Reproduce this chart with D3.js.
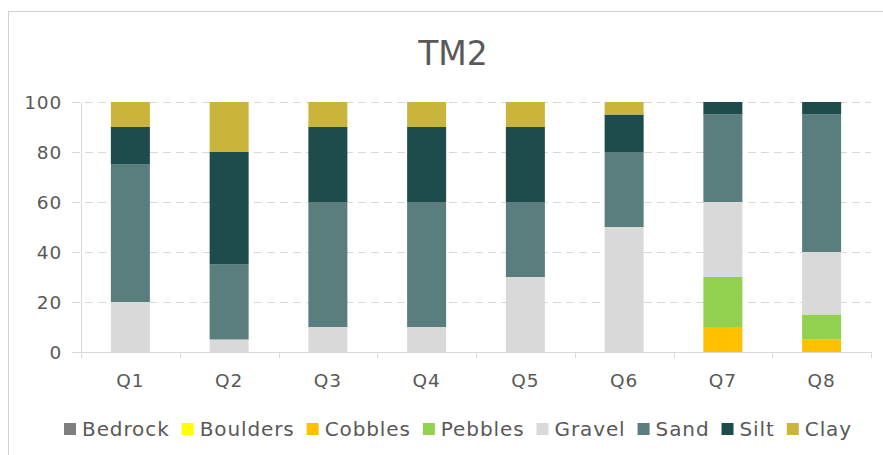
<!DOCTYPE html>
<html>
<head>
<meta charset="utf-8">
<script src="https://cdn.jsdelivr.net/npm/d3@7"></script>
<style>
  html, body { margin: 0; padding: 0; background: #fff; }
  svg { display: block; font-family: "DejaVu Sans", sans-serif; }
</style>
</head>
<body>
<svg id="chart" width="883" height="455"></svg>
<script>
// Sediment composition (%) per quadrat, stacked bottom to top
const categories = ["Q1", "Q2", "Q3", "Q4", "Q5", "Q6", "Q7", "Q8"];
const seriesNames = ["Bedrock", "Boulders", "Cobbles", "Pebbles", "Gravel", "Sand", "Silt", "Clay"];
const bedrock  = [0, 0, 0, 0, 0, 0, 0, 0];
const boulders = [0, 0, 0, 0, 0, 0, 0, 0];
const cobbles  = [0, 0, 0, 0, 0, 0, 10, 5];
const pebbles  = [0, 0, 0, 0, 0, 0, 20, 10];
const gravel   = [20, 5, 10, 10, 30, 50, 30, 25];
const sand     = [55, 30, 50, 50, 30, 30, 35, 55];
const silt     = [15, 45, 30, 30, 30, 15, 5, 5];
const clay     = [10, 20, 10, 10, 10, 5, 0, 0];
const yTicks = [0, 20, 40, 60, 80, 100];
const colors = ["#7f7f7f", "#ffff00", "#ffc000", "#92d050", "#d9d9d9", "#5a7e7d", "#1e4b4c", "#c9b53c"];

const seriesValues = [bedrock, boulders, cobbles, pebbles, gravel, sand, silt, clay];
const rows = categories.map((c, i) => {
  const r = { cat: c };
  seriesNames.forEach((s, j) => { r[s] = seriesValues[j][i]; });
  return r;
});
const stacked = d3.stack().keys(seriesNames)(rows);

const svg = d3.select("#chart");
const plotLeft = 81, plotRight = 871, plotTop = 102, plotBottom = 352;

// chart frame
svg.append("rect")
  .attr("x", 8.5).attr("y", 11.5)
  .attr("width", 920).attr("height", 500)
  .attr("fill", "none").attr("stroke", "#d0d0d0").attr("stroke-width", 1);

const x = d3.scaleBand().domain(categories).range([plotLeft, plotRight])
  .paddingInner(0.605).paddingOuter(0.3025);
const y = d3.scaleLinear().domain([0, 100]).range([plotBottom, plotTop]);
const color = d3.scaleOrdinal().domain(seriesNames).range(colors);

// title
svg.append("text")
  .attr("x", 453).attr("y", 65)
  .attr("text-anchor", "middle")
  .attr("font-size", 33).attr("fill", "#595959")
  .text("TM2");

// dashed gridlines
svg.append("g").selectAll("line")
  .data(yTicks.filter(t => t > 0))
  .join("line")
  .attr("x1", 72).attr("x2", plotRight)
  .attr("y1", d => Math.round(y(d)) + 0.5).attr("y2", d => Math.round(y(d)) + 0.5)
  .attr("stroke", "#d9d9d9").attr("stroke-width", 1)
  .attr("stroke-dasharray", "8,5");

// y axis line
svg.append("line")
  .attr("x1", plotLeft + 0.5).attr("x2", plotLeft + 0.5)
  .attr("y1", plotTop).attr("y2", plotBottom + 6)
  .attr("stroke", "#d9d9d9");

// y tick labels
svg.append("g").selectAll("text")
  .data(yTicks)
  .join("text")
  .attr("x", 62).attr("y", d => y(d))
  .attr("dy", "0.36em")
  .attr("text-anchor", "end")
  .attr("font-size", 18.5).attr("letter-spacing", 0.8)
  .attr("fill", "#595959")
  .text(d => d);

// bars
svg.append("g").selectAll("g")
  .data(stacked)
  .join("g")
  .attr("fill", d => color(d.key))
  .selectAll("rect")
  .data(d => d)
  .join("rect")
  .attr("x", d => x(d.data.cat))
  .attr("width", x.bandwidth())
  .attr("y", d => y(d[1]))
  .attr("height", d => y(d[0]) - y(d[1]));

// x axis
const xAxis = svg.append("g").attr("transform", `translate(0,${plotBottom})`);
xAxis.append("line")
  .attr("x1", 72).attr("x2", plotRight)
  .attr("y1", 0.5).attr("y2", 0.5)
  .attr("stroke", "#d9d9d9");
const boundaries = categories.map(c => x(c) - (x.step() - x.bandwidth()) / 2)
  .concat([plotRight]);
xAxis.selectAll("line.tick")
  .data(boundaries)
  .join("line")
  .attr("class", "tick")
  .attr("x1", d => Math.round(d) + 0.5).attr("x2", d => Math.round(d) + 0.5)
  .attr("y1", 0).attr("y2", 6)
  .attr("stroke", "#d9d9d9");
xAxis.selectAll("text")
  .data(categories)
  .join("text")
  .attr("x", d => x(d) + x.bandwidth() / 2)
  .attr("y", 35)
  .attr("text-anchor", "middle")
  .attr("font-size", 18.5).attr("letter-spacing", 1)
  .attr("fill", "#595959")
  .text(d => d);

// legend
const legend = svg.append("g");
const items = legend.selectAll("g")
  .data(seriesNames)
  .join("g");
items.append("rect")
  .attr("width", 12).attr("height", 12)
  .attr("y", 423)
  .attr("fill", d => color(d));
items.append("text")
  .attr("x", 18).attr("y", 436)
  .attr("font-size", 20).attr("letter-spacing", 0.9)
  .attr("fill", "#595959")
  .text(d => d);
let cursor = 0;
const positions = [];
items.each(function () {
  positions.push(cursor);
  const w = d3.select(this).select("text").node().getComputedTextLength();
  cursor += 18 + w + 12;
});
const totalW = cursor - 12;
const startX = 458 - totalW / 2;
items.attr("transform", (d, i) => `translate(${startX + positions[i]},0)`);
</script>
</body>
</html>
